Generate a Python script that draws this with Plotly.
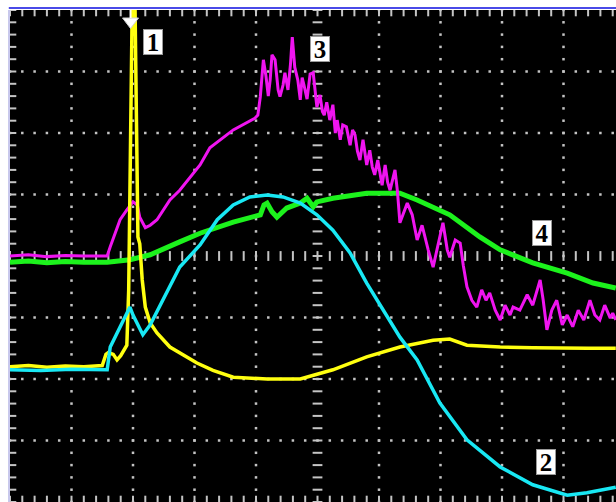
import numpy as np
import plotly.graph_objects as go

# Oscilloscope traces, in screen divisions (x: 0..10 time div, y: -4..4 vertical div)
ch1_t = [0, 0.3, 0.6, 0.9, 1.2, 1.5, 1.56, 1.6, 1.68, 1.74, 1.8, 1.86, 1.9, 1.93, 1.96, 1.99,
         2.03, 2.06, 2.08, 2.11, 2.15, 2.2, 2.28, 2.39, 2.6, 3.04, 3.3, 3.63, 4.18, 4.72, 5.25,
         5.8, 6.34, 6.88, 7.15, 7.43, 7.97, 8.5, 9.0, 9.4, 9.85]
ch1_v = [-1.8, -1.78, -1.81, -1.79, -1.8, -1.78, -1.6, -1.57, -1.6, -1.69, -1.62, -1.52, -1.45,
         -0.55, 2.0, 4.3, 4.3, 1.2, 0.31, 0.2, -0.39, -0.83, -1.09, -1.25, -1.48, -1.74, -1.86,
         -1.97, -2.0, -2.0, -1.85, -1.64, -1.48, -1.37, -1.35, -1.45, -1.48, -1.49, -1.5, -1.5, -1.5]

ch2_t = [0, 0.5, 1.0, 1.58, 1.63, 1.8, 1.95, 2.0, 2.16, 2.28, 2.76, 3.09, 3.37, 3.63, 3.9, 4.18,
         4.44, 4.72, 4.99, 5.25, 5.53, 5.8, 6.07, 6.34, 6.62, 6.88, 6.99, 7.43, 7.97, 8.5, 9.06,
         9.38, 9.85]
ch2_v = [-1.85, -1.86, -1.84, -1.85, -1.48, -1.15, -0.83, -0.96, -1.28, -1.12, -0.18, 0.18,
         0.59, 0.83, 0.96, 0.99, 0.96, 0.86, 0.67, 0.42, 0.05, -0.44, -0.88, -1.32, -1.69, -2.18,
         -2.39, -2.99, -3.43, -3.72, -3.89, -3.85, -3.76]

ch3_t = [0, 0.3, 0.6, 0.9, 1.2, 1.58, 1.63, 1.79, 1.9, 2.0, 2.07, 2.11, 2.2, 2.28, 2.39, 2.6,
         2.76, 3.09, 3.25, 3.63, 3.98, 4.03, 4.07, 4.1, 4.12, 4.16, 4.2, 4.23, 4.26, 4.31, 4.34,
         4.36, 4.39, 4.44, 4.47, 4.52, 4.56, 4.59, 4.63, 4.68, 4.72, 4.75, 4.78, 4.83, 4.88, 4.93,
         4.99, 5.04, 5.08, 5.11, 5.15, 5.2, 5.25, 5.29, 5.32, 5.37, 5.41, 5.47, 5.53, 5.57, 5.61,
         5.65, 5.69, 5.74, 5.8, 5.85, 5.89, 5.93, 5.98, 6.05, 6.1, 6.14, 6.18, 6.26, 6.3, 6.34,
         6.46, 6.54, 6.62, 6.7, 6.8, 6.88, 6.96, 7.04, 7.11, 7.15, 7.24, 7.32, 7.37, 7.43, 7.51,
         7.59, 7.67, 7.74, 7.8, 7.89, 7.97, 8.05, 8.13, 8.18, 8.29, 8.41, 8.5, 8.62, 8.67, 8.73,
         8.81, 8.89, 8.98, 9.06, 9.15, 9.24, 9.33, 9.43, 9.51, 9.59, 9.67, 9.76, 9.8, 9.85]
ch3_v = [0.0, 0.02, -0.01, 0.01, 0.0, 0.0, 0.15, 0.59, 0.75, 0.88, 0.83, 0.63, 0.46, 0.5, 0.59,
         0.91, 1.07, 1.48, 1.76, 2.05, 2.24, 2.29, 2.59, 2.9, 3.19, 2.94, 2.6, 2.86, 3.27, 3.19,
         2.85, 2.7, 2.59, 2.78, 2.98, 2.7, 3.11, 3.56, 3.07, 2.86, 2.54, 2.9, 2.78, 2.55, 2.96,
         2.98, 2.42, 2.62, 2.35, 2.29, 2.5, 2.21, 2.46, 2.0, 2.21, 1.89, 2.13, 2.1, 1.8, 2.05,
         1.97, 1.7, 1.56, 1.89, 1.48, 1.72, 1.45, 1.32, 1.56, 1.15, 1.48, 1.2, 1.07, 1.4, 1.05,
         0.54, 0.86, 0.67, 0.26, 0.5, 0.1, -0.18, 0.18, 0.54, 0.1, -0.02, 0.26, 0.21, -0.15, -0.5,
         -0.72, -0.83, -0.55, -0.72, -0.6, -0.88, -1.04, -0.8, -0.96, -0.83, -0.88, -0.63, -0.8,
         -0.39, -0.72, -1.2, -0.88, -0.72, -1.12, -0.96, -1.15, -0.88, -1.04, -0.72, -0.96, -1.04,
         -0.8, -1.01, -0.93, -1.04]

ch4_t = [0, 0.3, 0.6, 0.9, 1.2, 1.58, 1.95, 2.28, 2.76, 3.09, 3.63, 4.07, 4.13, 4.18, 4.26, 4.34,
         4.5, 4.72, 4.83, 4.93, 4.99, 5.25, 5.8, 6.07, 6.34, 6.62, 7.15, 7.64, 7.97, 8.5, 9.06,
         9.48, 9.85]
ch4_v = [-0.1, -0.08, -0.11, -0.09, -0.1, -0.1, -0.06, 0.02, 0.23, 0.37, 0.55, 0.67, 0.83, 0.86,
         0.72, 0.63, 0.78, 0.86, 0.94, 0.8, 0.88, 0.94, 1.02, 1.02, 1.02, 0.91, 0.67, 0.31, 0.1,
         -0.11, -0.28, -0.44, -0.52]

labels = ["1", "2", "3", "4"]
label_t = [2.33, 8.72, 5.04, 8.65]
label_v = [3.48, -3.35, 3.37, 0.37]

XMAX = 606 / 61.5
GRID = "#c4c4c4"

fig = go.Figure()

# graticule dots
gx, gy = [], []
for k in [1, 2, 3, 4, 6, 7, 8, 9]:
    ys = np.arange(-4, 4.001, 0.2)
    gx += [k] * len(ys)
    gy += list(ys)
for m in [-3, -2, -1, 1, 2, 3]:
    xs = np.arange(0, XMAX, 0.2)
    gx += list(xs)
    gy += [m] * len(xs)
fig.add_trace(go.Scatter(x=gx, y=gy, mode="markers", hoverinfo="skip",
                         marker=dict(symbol="square", size=2.5, color=GRID, line=dict(width=0))))

# center-line ticks and border ticks
ys = np.arange(-4, 4.001, 0.2)
xs = np.arange(0, XMAX, 0.2)
fig.add_trace(go.Scatter(x=[5] * len(ys), y=ys, mode="markers", hoverinfo="skip",
                         marker=dict(symbol="line-ew", size=7, line=dict(width=2, color=GRID))))
fig.add_trace(go.Scatter(x=xs, y=[0] * len(xs), mode="markers", hoverinfo="skip",
                         marker=dict(symbol="line-ns", size=7, line=dict(width=2, color=GRID))))
fig.add_trace(go.Scatter(x=[0] * len(ys), y=ys, mode="markers", hoverinfo="skip",
                         marker=dict(symbol="line-ew", size=9, line=dict(width=2, color=GRID))))
fig.add_trace(go.Scatter(x=xs, y=[4] * len(xs), mode="markers", hoverinfo="skip",
                         marker=dict(symbol="line-ns", size=9, line=dict(width=2, color=GRID))))
fig.add_trace(go.Scatter(x=xs, y=[-4] * len(xs), mode="markers", hoverinfo="skip",
                         marker=dict(symbol="line-ns", size=9, line=dict(width=2, color=GRID))))

# signal traces
fig.add_trace(go.Scatter(x=ch4_t, y=ch4_v, mode="lines", line=dict(color="#1cf21c", width=5)))
fig.add_trace(go.Scatter(x=ch3_t, y=ch3_v, mode="lines", line=dict(color="#f014f0", width=3)))
fig.add_trace(go.Scatter(x=ch1_t, y=ch1_v, mode="lines", line=dict(color="#ffff10", width=3.5)))
fig.add_trace(go.Scatter(x=ch2_t, y=ch2_v, mode="lines", line=dict(color="#18e8f4", width=3.5)))

for lab, t, v in zip(labels, label_t, label_v):
    fig.add_annotation(x=t, y=v, text="<b>" + lab + "</b>", showarrow=False, width=18, height=24,
                       font=dict(family="Liberation Serif", size=25, color="black"),
                       bgcolor="white", bordercolor="#9a9a9a", borderwidth=1, borderpad=0)

# trigger marker at top
fig.add_shape(type="path", path="M 1.83 3.87 L 2.09 3.87 L 1.96 3.70 Z",
              fillcolor="white", line=dict(color="#d0d0d0", width=1))
fig.add_shape(type="line", x0=1.96, x1=1.96, y0=4.0, y1=3.87, line=dict(color="white", width=2))

# frame lines
fig.add_shape(type="line", xref="paper", yref="paper", x0=-0.002, x1=1, y0=1 + 2 / 492, y1=1 + 2 / 492,
              line=dict(color="#4a4ae8", width=2))
fig.add_shape(type="line", xref="paper", yref="paper", x0=-1 / 606, x1=-1 / 606, y0=0, y1=1,
              line=dict(color="#c8c8ec", width=2))

fig.update_layout(
    width=616, height=502, showlegend=False,
    margin=dict(l=10, r=0, t=10, b=0, pad=0),
    paper_bgcolor="white", plot_bgcolor="black",
    xaxis=dict(range=[0, XMAX], showgrid=False, zeroline=False, showticklabels=False, ticks=""),
    yaxis=dict(range=[-4, 4], showgrid=False, zeroline=False, showticklabels=False, ticks=""),
)

fig.write_html("out.html", config={"displayModeBar": False},
               post_script="document.body.style.margin='0';document.body.style.overflow='hidden';")
